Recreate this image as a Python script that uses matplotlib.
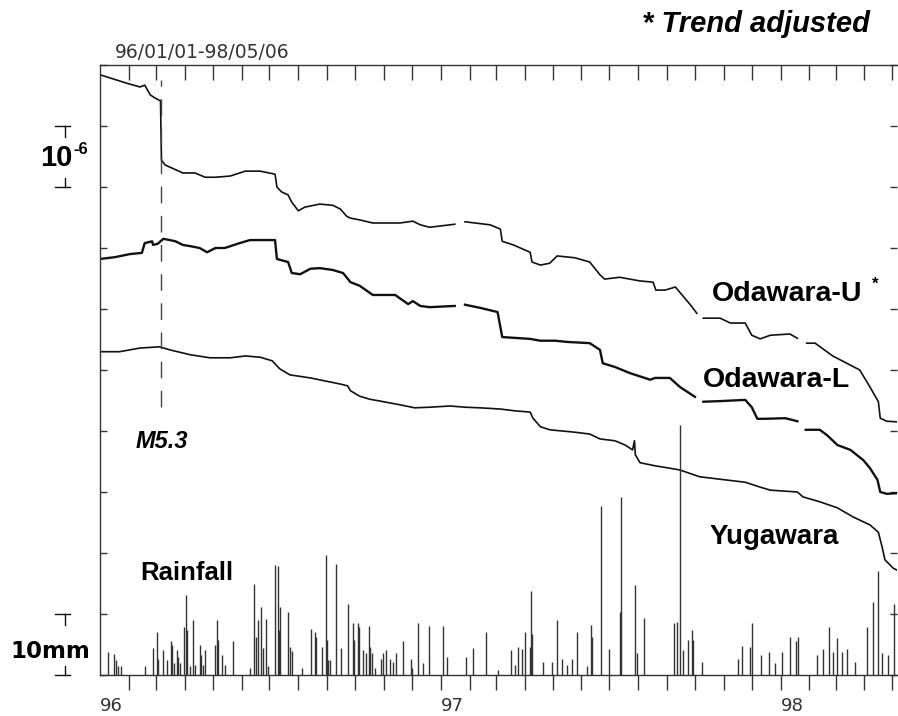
import numpy as np
import matplotlib
matplotlib.use('Agg')
import matplotlib.pyplot as plt

nan = np.nan

# days since 1996-01-01, strain offsets in units of 1e-6
u_day = [0, 29, 43, 48, 54, 59, 65, 66, 70, 89, 102, 113, 124, 140, 156, 172, 188, 190, 195, 202,
         206, 213, 220, 236, 250, 258, 265, 269, 279, 293, 322, 336, 344, 354, 376, 381, nan, 392, 419, 430,
         432, 444, 462, 464, 473, 483, 491, 510, 526, 537, 542, 558, 580, 594, 597, 607, 618, 634, 641, nan,
         648, 666, 677, 693, 700, 709, 720, 741, 749, nan, 759, 768, 787, 816, 827, 836, 838, 845, 856]
u_val = [9.84, 9.70, 9.64, 9.67, 9.51, 9.46, 9.41, 8.44, 8.36, 8.23, 8.23, 8.16, 8.16, 8.18, 8.26, 8.26, 8.21, 8.00, 7.92, 7.87,
         7.75, 7.61, 7.67, 7.72, 7.70, 7.64, 7.52, 7.49, 7.46, 7.41, 7.41, 7.44, 7.38, 7.34, 7.38, 7.39, nan, 7.43, 7.38, 7.31,
         7.11, 7.05, 6.93, 6.77, 6.72, 6.75, 6.87, 6.84, 6.77, 6.56, 6.49, 6.52, 6.46, 6.44, 6.31, 6.31, 6.36, 6.07, 5.93, nan,
         5.85, 5.85, 5.77, 5.77, 5.57, 5.51, 5.57, 5.59, 5.52, nan, 5.44, 5.44, 5.23, 5.00, 4.72, 4.48, 4.21, 4.16, 4.15]

l_day = [0, 16, 32, 45, 48, 56, 57, 62, 68, 75, 81, 89, 97, 107, 115, 124, 134, 150, 161, 188,
         190, 202, 206, 215, 226, 236, 250, 261, 269, 279, 293, 317, 331, 336, 344, 354, 381, nan, 392, 408,
         427, 432, 462, 473, 489, 502, 526, 537, 540, 553, 569, 591, 596, 612, 623, 639, nan, 648, 666, 693,
         700, 706, 714, 736, 749, nan, 758, 773, 781, 792, 806, 820, 827, 835, 838, 845, 856]
l_val = [6.82, 6.85, 6.90, 6.92, 7.08, 7.11, 7.05, 7.07, 7.15, 7.13, 7.11, 7.05, 7.03, 7.00, 6.93, 7.00, 7.00, 7.08, 7.13, 7.13,
         6.82, 6.77, 6.59, 6.57, 6.66, 6.67, 6.64, 6.59, 6.44, 6.38, 6.23, 6.23, 6.08, 6.13, 6.05, 6.03, 6.05, nan, 6.07, 6.02,
         5.95, 5.54, 5.51, 5.48, 5.48, 5.46, 5.44, 5.33, 5.11, 5.05, 4.95, 4.84, 4.87, 4.87, 4.72, 4.56, nan, 4.48, 4.49, 4.51,
         4.39, 4.20, 4.20, 4.21, 4.16, nan, 4.02, 4.02, 3.93, 3.77, 3.69, 3.52, 3.39, 3.20, 3.00, 2.97, 2.98]

y_day = [0, 21, 43, 64, 75, 97, 118, 140, 156, 172, 185, 193, 204, 226, 242, 258, 266, 269, 279, 290,
         301, 322, 338, 354, 376, 392, 408, 430, 446, 462, 465, 473, 483, 510, 526, 537, 553, 564, 572, 574,
         575, 580, 596, 612, 623, 644, 671, 693, 709, 720, 749, 755, 773, 792, 809, 827, 836, 840, 843, 852, 856]
y_val = [5.30, 5.30, 5.36, 5.38, 5.33, 5.25, 5.20, 5.20, 5.23, 5.21, 5.15, 5.02, 4.92, 4.87, 4.82, 4.77, 4.74, 4.66, 4.57, 4.52,
         4.49, 4.43, 4.38, 4.39, 4.41, 4.39, 4.38, 4.36, 4.33, 4.31, 4.21, 4.07, 4.02, 3.98, 3.95, 3.87, 3.84, 3.77, 3.69, 3.84,
         3.61, 3.48, 3.43, 3.39, 3.36, 3.25, 3.20, 3.16, 3.08, 3.03, 3.00, 2.92, 2.84, 2.74, 2.59, 2.46, 2.34, 2.10, 1.89, 1.75, 1.72]

# daily rainfall (mm)
rain_day = [9, 15, 17, 19, 23, 48, 57, 61, 62, 68, 72, 76, 77, 79, 83, 84, 86, 90, 92, 93,
            97, 100, 102, 107, 108, 111, 113, 124, 126, 127, 131, 134, 143, 161, 165, 168, 170, 173, 175, 178,
            180, 188, 191, 192, 193, 202, 204, 206, 217, 227, 231, 232, 238, 243, 244, 245, 247, 253, 259, 266,
            272, 273, 277, 278, 282, 286, 289, 290, 292, 295, 302, 304, 307, 311, 315, 318, 325, 334, 335, 342,
            347, 353, 368, 373, 393, 401, 415, 427, 441, 446, 449, 453, 456, 462, 463, 464, 476, 485, 491, 496,
            502, 507, 512, 523, 527, 528, 538, 547, 558, 560, 575, 577, 584, 616, 620, 623, 626, 632, 636, 637,
            647, 685, 690, 698, 700, 710, 718, 725, 732, 741, 747, 750, 770, 777, 783, 787, 792, 797, 802, 811,
            824, 830, 836, 840, 846, 853]
rain_mm = [3.8, 3.4, 2.5, 1.4, 1.4, 1.4, 4.5, 7.0, 2.7, 4.1, 2.5, 5.5, 5.0, 1.9, 4.1, 3.0, 1.9, 7.9, 13.1, 7.4,
           1.4, 9.0, 1.6, 5.0, 3.3, 1.6, 4.1, 5.0, 9.0, 5.7, 3.3, 1.6, 5.5, 1.1, 15.0, 6.3, 9.0, 11.2, 4.4, 9.1,
           1.4, 18.0, 17.8, 7.4, 11.2, 10.4, 4.6, 4.0, 1.1, 7.5, 7.1, 6.3, 4.6, 19.7, 5.7, 2.5, 2.5, 18.2, 4.5, 11.7,
           8.5, 5.7, 8.5, 7.9, 4.1, 3.6, 8.0, 4.6, 3.6, 1.1, 2.7, 3.6, 4.1, 2.7, 2.2, 3.6, 5.6, 2.7, 1.1, 8.5,
           1.9, 8.0, 8.0, 3.0, 3.0, 4.5, 7.1, 0.8, 4.1, 1.6, 4.6, 4.2, 7.1, 4.6, 13.7, 6.8, 2.2, 2.2, 9.0, 2.7,
           1.6, 2.7, 7.1, 1.4, 8.2, 6.3, 27.7, 4.2, 10.4, 29.1, 14.8, 3.6, 9.3, 8.5, 8.7, 41.0, 4.1, 5.7, 7.4, 5.7,
           2.2, 2.7, 4.8, 4.6, 8.6, 3.3, 3.7, 1.9, 3.8, 6.3, 5.6, 6.3, 3.3, 4.2, 7.9, 3.7, 6.0, 3.8, 4.2, 2.2,
           7.9, 11.9, 17.0, 3.6, 3.3, 11.7]

quake_day = 65.5
end_day = 856

W, H = 898, 716
fig = plt.figure(figsize=(W / 100, H / 100), dpi=100)
ax = fig.add_axes([100 / W, 41 / H, 797 / W, 610 / H])

ink = '#111111'
ax.plot(u_day, u_val, color=ink, lw=1.2)
ax.plot(l_day, l_val, color=ink, lw=1.7)
ax.plot(y_day, y_val, color=ink, lw=1.2)
ax.vlines(rain_day, 0, np.array(rain_mm) / 10, color='#333333', lw=1.0)
ax.vlines(quake_day, 4.39, 9.75, color='#444444', lw=1.0, linestyles=(0, (12, 9)))

ax.set_xlim(0, end_day)
ax.set_ylim(0, 10)

months = np.arange(np.datetime64('1996-02'), np.datetime64('1998-06'), np.timedelta64(1, 'M'))
month_days = (months.astype('datetime64[D]') - np.datetime64('1996-01-01')).astype(int)
ax.set_xticks(month_days)
ax.set_xticklabels([])
ax.tick_params(axis='x', bottom=True, top=True, width=1, color='#333333')
ax.set_yticks(range(0, 11))
ax.set_yticklabels([])
ax.tick_params(axis='y', left=True, right=True, direction='in', length=5, width=1, color='#333333')
for s in ['left', 'top', 'bottom']:
    ax.spines[s].set_linewidth(1.0)
    ax.spines[s].set_color('#333333')
ax.spines['right'].set_visible(False)

# bottom ticks hang below the baseline, top ticks hang down from the top edge
for t in ax.xaxis.get_major_ticks():
    t.tick1line.set_marker(3)
    t.tick1line.set_markersize(11)
    t.tick2line.set_marker(3)
    t.tick2line.set_markersize(11)

xt = ax.get_xaxis_transform()
year_days = [0, 366, 731]
for d, lab in zip(year_days, ['96', '97', '98']):
    ax.text(d, -0.051, lab, transform=xt, ha='left', va='center', fontsize=13,
            family='DejaVu Sans', color='#333333')

# scale brackets
yt = ax.get_yaxis_transform()
for lo, hi in [(8, 9), (0, 1)]:
    ax.plot([-0.057, -0.038], [hi, hi], transform=yt, color=ink, lw=1, clip_on=False)
    ax.plot([-0.057, -0.038], [lo, lo], transform=yt, color=ink, lw=1, clip_on=False)
    ax.plot([-0.044, -0.044], [hi, hi - 0.18], transform=yt, color=ink, lw=1, clip_on=False)
    ax.plot([-0.044, -0.044], [lo, lo + 0.15], transform=yt, color=ink, lw=1, clip_on=False)


def ftext(px, py, s, **kw):
    fig.text(px / W, 1 - py / H, s, **kw)


ftext(115, 52, '96/01/01-98/05/06', fontsize=13.5, family='DejaVu Sans', color='#333333', va='center')
ftext(870, 24, '* Trend adjusted', fontsize=21, family='Liberation Sans', weight='bold', style='italic',
      ha='right', va='center')
ftext(56, 158, '10', fontsize=21, family='Liberation Sans', weight='bold', ha='center', va='center')
ftext(81, 149, '-6', fontsize=12, family='Liberation Sans', weight='bold', ha='center', va='center')
ftext(50, 652, '10mm', fontsize=16.5, family='DejaVu Sans', weight='bold', ha='center', va='center')
ftext(140, 573, 'Rainfall', fontsize=18.5, family='Liberation Sans', weight='bold', va='center')
ftext(136, 441, 'M5.3', fontsize=17, family='Liberation Sans', weight='bold', style='italic', va='center')
ftext(712, 294, 'Odawara-U', fontsize=20.5, family='Liberation Sans', weight='bold', va='center')
ftext(875, 284, '*', fontsize=12, family='Liberation Sans', weight='bold', ha='center', va='center')
ftext(703, 380, 'Odawara-L', fontsize=20.5, family='Liberation Sans', weight='bold', va='center')
ftext(710, 537, 'Yugawara', fontsize=20, family='Liberation Sans', weight='bold', va='center')

fig.savefig('out.png', dpi=100, facecolor='white')
